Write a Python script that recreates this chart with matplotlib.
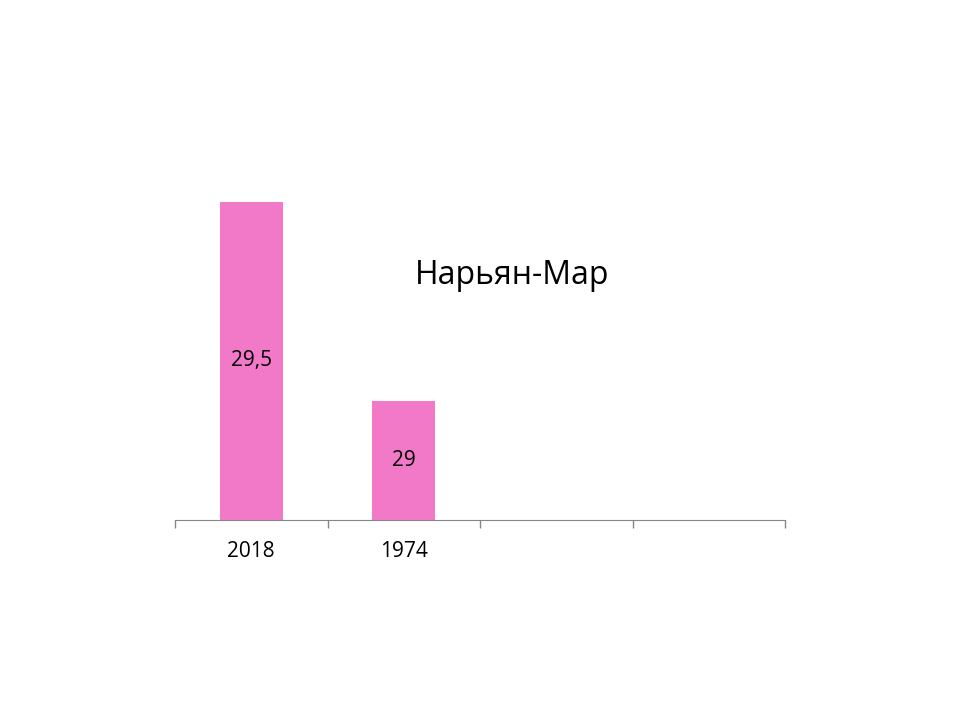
import matplotlib
matplotlib.use("Agg")
import matplotlib.pyplot as plt

categories = ["2018", "1974", "", ""]
values = [29.5, 29.0, None, None]
value_labels = ["29,5", "29"]
title = "Нарьян-Мар"

plt.rcParams['font.family'] = ['Open Sans', 'DejaVu Sans']

fig = plt.figure(figsize=(9.6, 7.2), dpi=100)
ax = fig.add_axes([175/960, 1-520/720, 610/960, 420/720])

base = 28.7
xs = list(range(len(categories)))
for i, v in enumerate(values):
    if v is None:
        continue
    ax.bar(i, v - base, bottom=base, width=0.41, color="#F279C8")
    ax.text(i, base + (v - base) / 2, value_labels[i], ha="center", va="center",
            fontsize=15, color="black")

ax.set_xlim(-0.5, len(categories) - 0.5)
ax.set_ylim(base, base + 420/397.5)
ax.set_xticks([x - 0.5 for x in range(len(categories) + 1)], minor=False)
ax.set_xticklabels([])
ax.set_xticks(xs, minor=True)
ax.set_xticklabels(categories, minor=True, fontsize=15)
ax.tick_params(axis="x", which="major", length=6, color="#868686", width=1)
ax.tick_params(axis="x", which="minor", length=0, pad=15)
ax.set_yticks([])
for s in ["top", "right", "left"]:
    ax.spines[s].set_visible(False)
ax.spines["bottom"].set_color("#868686")

fig.text(512/960, 1-275/720, title, ha="center", va="center", fontsize=23, color="black")

fig.savefig("out.png", dpi=100)
